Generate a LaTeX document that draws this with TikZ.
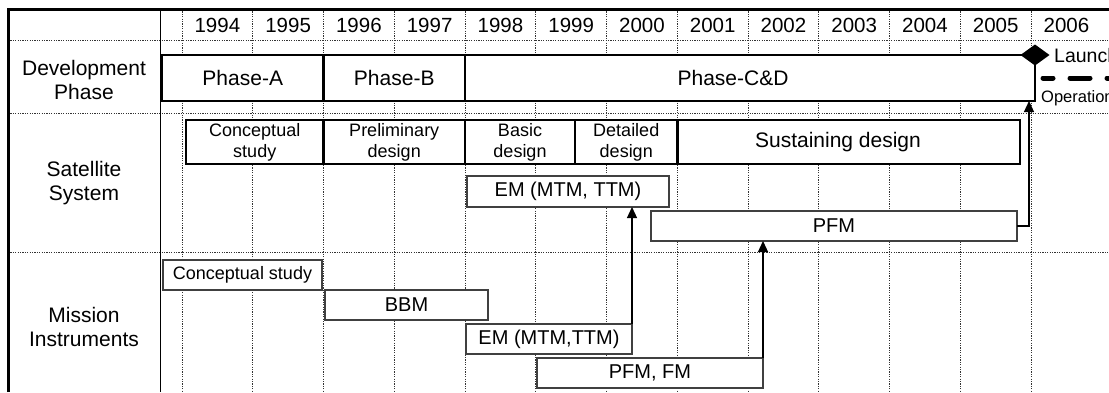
\documentclass[tikz,border=0pt]{standalone}
\usepackage{fontspec}
\setmainfont{Liberation Sans}
\usetikzlibrary{arrows.meta,calc}
\begin{document}
\begin{tikzpicture}[x=1pt,y=-1pt,
  gridline/.style={line width=0.7pt, draw=black!80, dash pattern=on 1.2pt off 1.2pt},
  frameline/.style={line width=3pt},
  phasebox/.style={draw, line width=2.6pt, fill=white, rectangle, anchor=north west,
    inner sep=0pt, outer sep=0pt, font=\fontsize{21}{24}\selectfont},
  stagebox/.style={phasebox, align=center, font=\fontsize{18}{21}\selectfont},
  itembox/.style={draw=black!75, line width=1.1pt, fill=white, rectangle, anchor=north west,
    inner sep=0pt, outer sep=0pt, font=\fontsize{20}{24}\selectfont},
  rowlabel/.style={align=center, font=\fontsize{21}{24}\selectfont},
  yearlabel/.style={anchor=base, inner sep=0pt, font=\fontsize{20.5}{24}\selectfont},
  dep/.style={line width=1.2pt, -{Triangle[length=11pt,width=10pt]}},
]
\clip (0,0) rectangle (1109,392);

% dotted grid: one column per year, row separators
\foreach \k in {0,...,12}
  \draw[gridline] ({182+70.75*\k},9) -- ({182+70.75*\k},392);
\foreach \yy in {40,113,252}
  \draw[gridline] (8,\yy) -- (1109,\yy);
\draw[line width=1pt] (160,9) -- (160,392);
\draw[frameline] (8,392) -- (8,9) -- (1109,9);

% year header
\foreach \yr [count=\i from 0] in {1994,...,2006}
  \node[yearlabel] (y\yr) at ({217.4+70.75*\i},32) {\yr};

% row titles
\node[rowlabel] (devlbl) at (84,80) {Development\\Phase};
\node[rowlabel] (satlbl) at (84,183.5) {Satellite\\System};
\node[rowlabel] (mislbl) at (84,327) {Mission\\Instruments};

% development phases
\node[phasebox, minimum width=161.5pt, minimum height=46pt] (phA) at (162,55) {Phase-A};
\node[phasebox, minimum width=141.5pt, minimum height=46pt] (phB) at (323.5,55) {Phase-B};
\node[phasebox, minimum width=570pt, minimum height=46pt] (phCD) at (465,55) {};
\node[font=\fontsize{21}{24}\selectfont] (phCDtxt) at (733,78) {Phase-C\&D};

% launch and operation
\fill (phCD.north east) ++(-14.5,0) -- ++(14.5,-10.5) -- ++(14.5,10.5) -- ++(-14.5,10.5) -- cycle;
\draw[line width=5pt, line cap=round, dash pattern=on 20pt off 17pt, dash phase=10pt]
  ($(phCD.east)+(8,0)$) -- ++(90,0);
\node[anchor=base west, inner sep=0pt, font=\fontsize{19.5}{24}\selectfont] (launch) at (1054,62) {Launch};
\node[anchor=base west, inner sep=0pt, font=\fontsize{16.5}{20}\selectfont] (oper) at (1041,102) {Operation};

% satellite system design stages
\node[stagebox, minimum width=137.5pt, minimum height=44pt] (ssC) at (186,120) {Conceptual\\study};
\node[stagebox, minimum width=141.5pt, minimum height=44pt] (ssP) at (323.5,120) {Preliminary\\design};
\node[stagebox, minimum width=110pt, minimum height=44pt] (ssB) at (465,120) {Basic\\design};
\node[stagebox, minimum width=102.5pt, minimum height=44pt] (ssD) at (575,120) {Detailed\\design};
\node[stagebox, minimum width=342.5pt, minimum height=44pt] (ssS) at (677.5,120) {};
\node[font=\fontsize{21}{24}\selectfont] (ssStxt) at (838,142) {Sustaining design};

% satellite models
\node[itembox, minimum width=202pt, minimum height=31pt] (emS) at (467,176) {EM (MTM, TTM)};
\node[itembox, minimum width=366pt, minimum height=30pt] (pfmS) at (651,211) {PFM};

% mission instrument models
\node[itembox, minimum width=159pt, minimum height=30pt, font=\fontsize{18}{21}\selectfont] (csM) at (163,260) {Conceptual study};
\node[itembox, minimum width=163pt, minimum height=30pt] (bbmM) at (325,290) {BBM};
\node[itembox, minimum width=166pt, minimum height=30pt] (emM) at (466,324) {EM (MTM,TTM)};
\node[itembox, minimum width=226pt, minimum height=30pt] (pfmM) at (537,358) {PFM, FM};

% deliveries
\draw[dep] (emM.north east) -- (emM.north east |- emS.south);
\draw[dep] (pfmM.north east) -- (pfmM.north east |- pfmS.south);
\draw[dep] (pfmS.east) -| ($(phCD.south east)+(-6,0)$);
\end{tikzpicture}
\end{document}
